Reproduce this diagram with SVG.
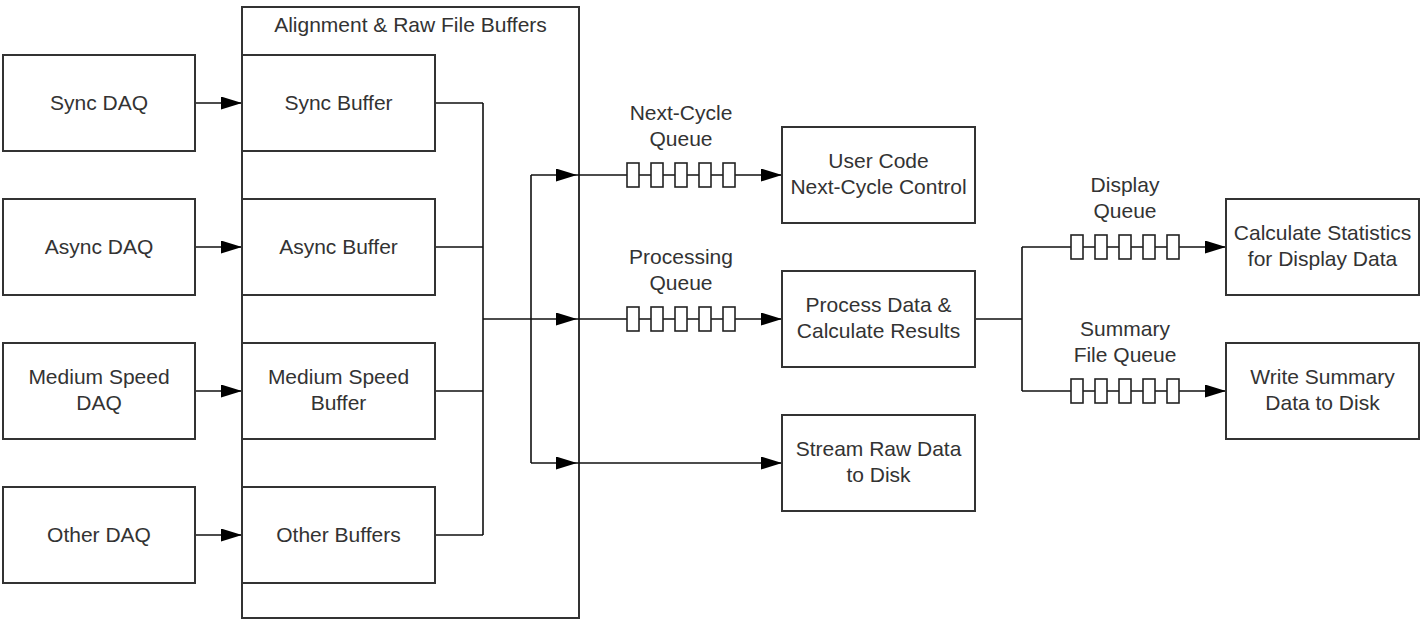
<svg xmlns="http://www.w3.org/2000/svg" xmlns:xlink="http://www.w3.org/1999/xlink" width="1421" height="620" viewBox="0 0 1421 620">
<style>
.box{fill:#fff;stroke:#333;stroke-width:2}
.cont{fill:none;stroke:#333;stroke-width:2}
.ln{fill:none;stroke:#111;stroke-width:1.6}
.cell{fill:#fff;stroke:#222;stroke-width:1.6}
text{font-family:"Liberation Sans",Arial,sans-serif;font-size:21px;fill:#333;text-anchor:middle}
</style>
<defs>
<marker id="ah" markerUnits="userSpaceOnUse" markerWidth="22" markerHeight="14" refX="21" refY="6.5" orient="auto">
<path d="M0,0 L21,6.5 L0,13 Z" fill="#000"/>
</marker>
<g id="queue">
<rect class="cell" x="0" y="-12" width="12" height="24"/>
<rect class="cell" x="24" y="-12" width="12" height="24"/>
<rect class="cell" x="48" y="-12" width="12" height="24"/>
<rect class="cell" x="72" y="-12" width="12" height="24"/>
<rect class="cell" x="96" y="-12" width="12" height="24"/>
</g>
</defs>
<rect width="1421" height="620" fill="#fff"/>

<g id="container">
<rect class="cont" x="242" y="7" width="337" height="611"/>
<text x="410.5" y="32">Alignment &amp; Raw File Buffers</text>
</g>

<g id="connectors">
<path class="ln" d="M195,103 H242" marker-end="url(#ah)"/>
<path class="ln" d="M195,247 H242" marker-end="url(#ah)"/>
<path class="ln" d="M195,391 H242" marker-end="url(#ah)"/>
<path class="ln" d="M195,535 H242" marker-end="url(#ah)"/>
<path class="ln" d="M435,103 H483 M435,247 H483 M435,391 H483 M435,535 H483 M483,103 V535"/>
<path class="ln" d="M483,319 H577" marker-end="url(#ah)"/>
<path class="ln" d="M577,319 H782" marker-end="url(#ah)"/>
<path class="ln" d="M531,175 V463"/>
<path class="ln" d="M531,175 H577" marker-end="url(#ah)"/>
<path class="ln" d="M577,175 H782" marker-end="url(#ah)"/>
<path class="ln" d="M531,463 H577" marker-end="url(#ah)"/>
<path class="ln" d="M577,463 H782" marker-end="url(#ah)"/>
<path class="ln" d="M975,319 H1022 M1022,247 V391"/>
<path class="ln" d="M1022,247 H1226" marker-end="url(#ah)"/>
<path class="ln" d="M1022,391 H1226" marker-end="url(#ah)"/>
</g>

<g id="q-nextcycle">
<use xlink:href="#queue" href="#queue" x="627" y="175"/>
<text x="681" y="120">Next-Cycle</text>
<text x="681" y="146">Queue</text>
</g>
<g id="q-processing">
<use xlink:href="#queue" href="#queue" x="627" y="319"/>
<text x="681" y="264">Processing</text>
<text x="681" y="290">Queue</text>
</g>
<g id="q-display">
<use xlink:href="#queue" href="#queue" x="1071" y="247"/>
<text x="1125" y="192">Display</text>
<text x="1125" y="218">Queue</text>
</g>
<g id="q-summary">
<use xlink:href="#queue" href="#queue" x="1071" y="391"/>
<text x="1125" y="336">Summary</text>
<text x="1125" y="362">File Queue</text>
</g>

<g id="sync-daq"><rect class="box" x="3" y="55" width="192" height="96"/><text x="99" y="110">Sync DAQ</text></g>
<g id="async-daq"><rect class="box" x="3" y="199" width="192" height="96"/><text x="99" y="254">Async DAQ</text></g>
<g id="medium-daq"><rect class="box" x="3" y="343" width="192" height="96"/><text x="99" y="384">Medium Speed</text><text x="99" y="410">DAQ</text></g>
<g id="other-daq"><rect class="box" x="3" y="487" width="192" height="96"/><text x="99" y="542">Other DAQ</text></g>

<g id="sync-buffer"><rect class="box" x="242" y="55" width="193" height="96"/><text x="338.5" y="110">Sync Buffer</text></g>
<g id="async-buffer"><rect class="box" x="242" y="199" width="193" height="96"/><text x="338.5" y="254">Async Buffer</text></g>
<g id="medium-buffer"><rect class="box" x="242" y="343" width="193" height="96"/><text x="338.5" y="384">Medium Speed</text><text x="338.5" y="410">Buffer</text></g>
<g id="other-buffers"><rect class="box" x="242" y="487" width="193" height="96"/><text x="338.5" y="542">Other Buffers</text></g>

<g id="user-code"><rect class="box" x="782" y="127" width="193" height="96"/><text x="878.5" y="168">User Code</text><text x="878.5" y="194">Next-Cycle Control</text></g>
<g id="process-data"><rect class="box" x="782" y="271" width="193" height="96"/><text x="878.5" y="312">Process Data &amp;</text><text x="878.5" y="338">Calculate Results</text></g>
<g id="stream-raw"><rect class="box" x="782" y="415" width="193" height="96"/><text x="878.5" y="456">Stream Raw Data</text><text x="878.5" y="482">to Disk</text></g>

<g id="calc-stats"><rect class="box" x="1226" y="199" width="193" height="96"/><text x="1322.5" y="240">Calculate Statistics</text><text x="1322.5" y="266">for Display Data</text></g>
<g id="write-summary"><rect class="box" x="1226" y="343" width="193" height="96"/><text x="1322.5" y="384">Write Summary</text><text x="1322.5" y="410">Data to Disk</text></g>
</svg>
